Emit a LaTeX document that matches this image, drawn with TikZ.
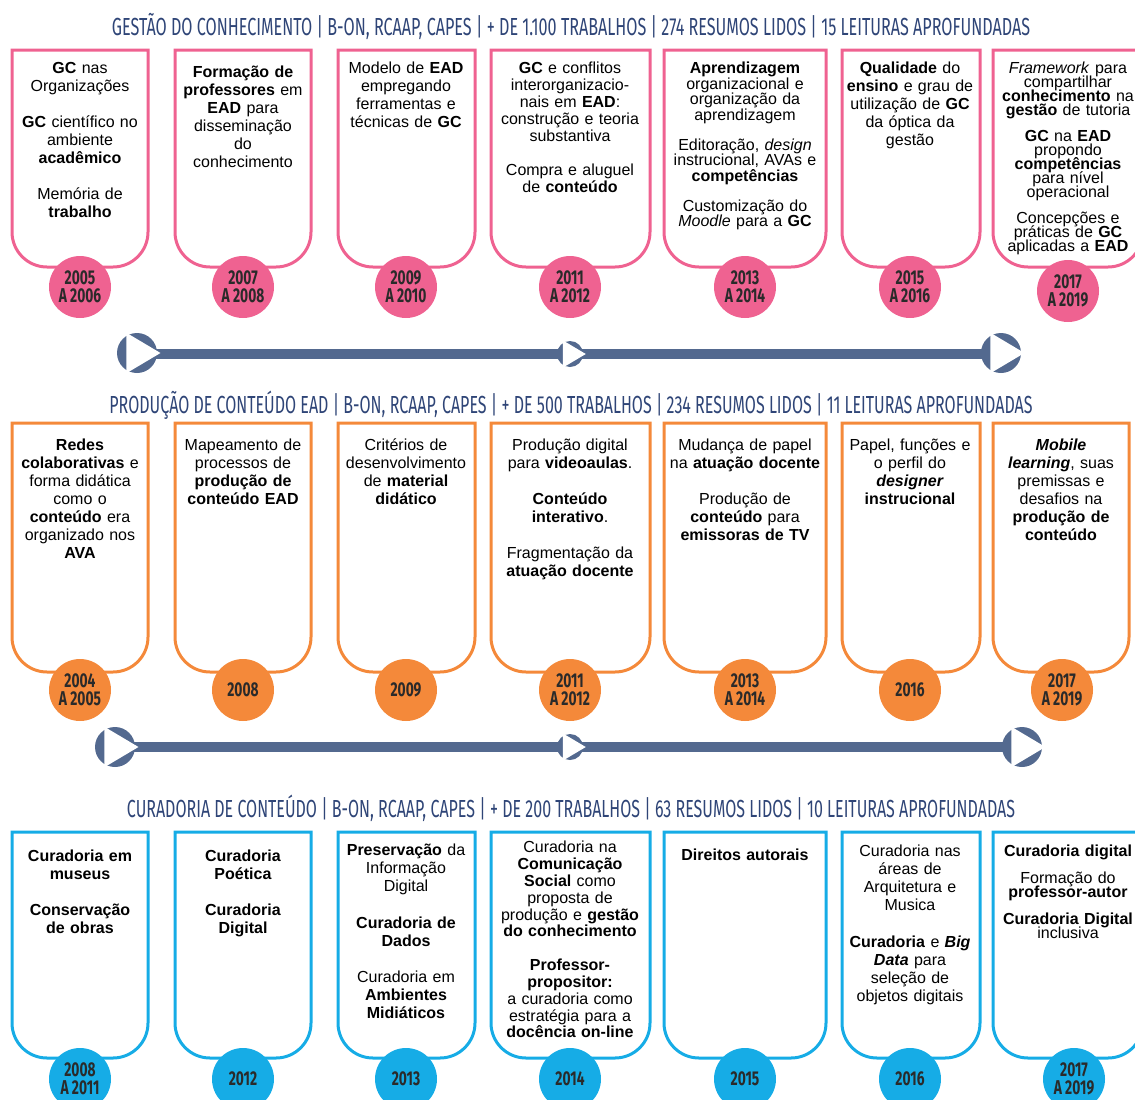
\documentclass[tikz,border=0pt]{standalone}
\usepackage{graphicx}
\usepackage{fontspec}
\setmainfont{Liberation Sans}
\newfontfamily\headfont[FakeStretch=0.6]{Fira Sans}
\newfontfamily\yearfont[FakeStretch=0.69]{Fira Sans}
\usetikzlibrary{calc}

\definecolor{gcpink}{HTML}{EF6291}
\definecolor{eadorange}{HTML}{F4893A}
\definecolor{curblue}{HTML}{16ACE6}
\definecolor{headnavy}{HTML}{2F4577}
\definecolor{lineslate}{HTML}{53698F}
\definecolor{yeardark}{HTML}{2A2A2A}

% card font: size and line distance, no extra line skip
\def\cardfont#1#2{\fontsize{#1}{#2}\selectfont\lineskiplimit=-20pt\lineskip=0pt}

\tikzset{
	cardline/.style={line width=3pt},
	cardtext/.style={anchor=north, inner sep=0pt, align=center, text width=170pt, font=\cardfont{16}{18}},
	yearball/.style={circle, minimum size=62pt, inner sep=0pt, align=center, text=yeardark, font=\yearfont\bfseries\fontsize{20}{18}\selectfont},
	headline/.style={anchor=base, inner sep=0pt, text=headnavy},
	timeline/.style={line width=10pt, color=lineslate},
}

% card with square top and round bottom corners
\def\cardframe[#1](#2:#3:#4:#5){\draw[cardline,#1] (#2,#4) -- (#2,#5-35) arc[start angle=180,end angle=90,radius=35] -- (#3-35,#5) arc[start angle=90,end angle=0,radius=35] -- (#3,#4) -- cycle;}
% play marker on the time line
\def\playmark(#1,#2,#3){\fill[lineslate] (#1,#2) circle (#3); \filldraw[white, line width=1.5pt] (#1-0.5*#3,#2-0.95*#3) -- (#1-0.5*#3,#2+0.95*#3) -- (#1+1.1*#3,#2) -- cycle;}

\begin{document}
\begin{tikzpicture}[x=1pt,y=-1pt]
	\useasboundingbox (0,0) rectangle (1135,1100);
	\clip (0,0) rectangle (1135,1100);
	
	%%%%% GESTAO DO CONHECIMENTO %%%%%
	
	\node[headline] (gchead) at (571,35) {\resizebox{918pt}{17pt}{\headfont\vphantom{X}\smash{GESTÃO DO CONHECIMENTO | B-ON, RCAAP, CAPES | + DE 1.100 TRABALHOS | 274 RESUMOS LIDOS | 15 LEITURAS APROFUNDADAS}}};
	
	\cardframe[gcpink](12:148:50:267)
	\cardframe[gcpink](175:311:50:267)
	\cardframe[gcpink](338:475:50:267)
	\cardframe[gcpink](491:650:50:267)
	\cardframe[gcpink](664:826:50:267)
	\cardframe[gcpink](842:980:50:267)
	\cardframe[gcpink](993:1143:50:267)
	
	\node[cardtext] (gc1txt) at (80,62) {\textbf{GC} nas\\Organizações\\[18pt]\textbf{GC} científico no\\ambiente\\\textbf{acadêmico}\\[18pt]Memória de\\\textbf{trabalho}};
	\node[cardtext] (gc2txt) at (243,66) {\textbf{Formação de}\\\textbf{professores} em\\\textbf{EAD} para\\disseminação\\do\\conhecimento};
	\node[cardtext] (gc3txt) at (406,62) {Modelo de \textbf{EAD}\\empregando\\ferramentas e\\técnicas de \textbf{GC}};
	\node[cardtext, font=\cardfont{16}{17}] (gc4txt) at (570,62) {\textbf{GC} e conflitos\\interorganizacio-\\nais em \textbf{EAD}:\\construção e teoria\\substantiva\\[17pt]Compra e aluguel\\de \textbf{conteúdo}};
	\node[cardtext, font=\cardfont{16}{15.5}] (gc5txt) at (745,62) {\textbf{Aprendizagem}\\organizacional e\\organização da\\aprendizagem\\[14.5pt]Editoração, \textit{design}\\instrucional, AVAs e\\\textbf{competências}\\[14.5pt]Customização do\\\textit{Moodle} para a \textbf{GC}};
	\node[cardtext] (gc6txt) at (910,62) {\textbf{Qualidade} do\\\textbf{ensino} e grau de\\utilização de \textbf{GC}\\da óptica da\\gestão};
	\node[cardtext, font=\cardfont{16}{14}] (gc7txt) at (1068,62) {\textit{Framework} para\\compartilhar\\\textbf{conhecimento} na\\\textbf{gestão} de tutoria\\[12pt]\textbf{GC} na \textbf{EAD}\\propondo\\\textbf{competências}\\para nível\\operacional\\[12pt]Concepções e\\práticas de \textbf{GC}\\aplicadas a \textbf{EAD}};
	
	\node[yearball, fill=gcpink] (gc1yr) at (80,287) {2005\\A 2006};
	\node[yearball, fill=gcpink] (gc2yr) at (243,287) {2007\\A 2008};
	\node[yearball, fill=gcpink] (gc3yr) at (406,287) {2009\\A 2010};
	\node[yearball, fill=gcpink] (gc4yr) at (570,287) {2011\\A 2012};
	\node[yearball, fill=gcpink] (gc5yr) at (745,287) {2013\\A 2014};
	\node[yearball, fill=gcpink] (gc6yr) at (910,287) {2015\\A 2016};
	\node[yearball, fill=gcpink] (gc7yr) at (1068,291) {2017\\A 2019};
	
	\coordinate (gcFirst) at (137,354);
	\coordinate (gcLast) at (1001,354);
	\draw[timeline] (gcFirst) -- (gcLast);
	\playmark(137,353,20)
	\playmark(570,354,13)
	\playmark(1001,353,20)
	
	%%%%% PRODUCAO DE CONTEUDO EAD %%%%%
	
	\node[headline] (eadhead) at (571,413) {\resizebox{923pt}{17pt}{\headfont\vphantom{X}\smash{PRODUÇÃO DE CONTEÚDO EAD | B-ON, RCAAP, CAPES | + DE 500 TRABALHOS | 234 RESUMOS LIDOS | 11 LEITURAS APROFUNDADAS}}};
	
	\cardframe[eadorange](12:148:423:672)
	\cardframe[eadorange](175:311:423:672)
	\cardframe[eadorange](338:475:423:672)
	\cardframe[eadorange](491:650:423:672)
	\cardframe[eadorange](664:826:423:672)
	\cardframe[eadorange](842:980:423:672)
	\cardframe[eadorange](993:1129:423:672)
	
	\node[cardtext] (ead1txt) at (80,439) {\textbf{Redes}\\\textbf{colaborativas} e\\forma didática\\como o\\\textbf{conteúdo} era\\organizado nos\\\textbf{AVA}};
	\node[cardtext] (ead2txt) at (243,439) {Mapeamento de\\processos de\\\textbf{produção de}\\\textbf{conteúdo EAD}};
	\node[cardtext] (ead3txt) at (406,439) {Critérios de\\desenvolvimento\\de \textbf{material}\\\textbf{didático}};
	\node[cardtext] (ead4txt) at (570,439) {Produção digital\\para \textbf{videoaulas}.\\[18pt]\textbf{Conteúdo}\\\textbf{interativo}.\\[18pt]Fragmentação da\\\textbf{atuação docente}};
	\node[cardtext] (ead5txt) at (745,439) {Mudança de papel\\na \textbf{atuação docente}\\[18pt]Produção de\\\textbf{conteúdo} para\\\textbf{emissoras de TV}};
	\node[cardtext] (ead6txt) at (910,439) {Papel, funções e\\o perfil do\\\textbf{\textit{designer}}\\\textbf{instrucional}};
	\node[cardtext] (ead7txt) at (1061,439) {\textbf{\textit{Mobile}}\\\textbf{\textit{learning}}, suas\\premissas e\\desafios na\\\textbf{produção de}\\\textbf{conteúdo}};
	
	\node[yearball, fill=eadorange] (ead1yr) at (80,690) {2004\\A 2005};
	\node[yearball, fill=eadorange] (ead2yr) at (243,690) {2008};
	\node[yearball, fill=eadorange] (ead3yr) at (406,690) {2009};
	\node[yearball, fill=eadorange] (ead4yr) at (570,690) {2011\\A 2012};
	\node[yearball, fill=eadorange] (ead5yr) at (745,690) {2013\\A 2014};
	\node[yearball, fill=eadorange] (ead6yr) at (910,690) {2016};
	\node[yearball, fill=eadorange] (ead7yr) at (1062,690) {2017\\A 2019};
	
	\coordinate (eadFirst) at (115,747);
	\coordinate (eadLast) at (1022,747);
	\draw[timeline] (eadFirst) -- (eadLast);
	\playmark(115,747,20)
	\playmark(570,747,13)
	\playmark(1022,747,20)
	
	%%%%% CURADORIA DE CONTEUDO %%%%%
	
	\node[headline] (curhead) at (571,817) {\resizebox{888pt}{17pt}{\headfont\vphantom{X}\smash{CURADORIA DE CONTEÚDO | B-ON, RCAAP, CAPES | + DE 200 TRABALHOS | 63 RESUMOS LIDOS | 10 LEITURAS APROFUNDADAS}}};
	
	\cardframe[curblue](12:148:832:1058)
	\cardframe[curblue](175:311:832:1058)
	\cardframe[curblue](338:475:832:1058)
	\cardframe[curblue](491:650:832:1058)
	\cardframe[curblue](664:826:832:1058)
	\cardframe[curblue](842:980:832:1058)
	\cardframe[curblue](993:1143:832:1058)
	
	\node[cardtext] (cur1txt) at (80,850) {\textbf{Curadoria em}\\\textbf{museus}\\[18pt]\textbf{Conservação}\\\textbf{de obras}};
	\node[cardtext] (cur2txt) at (243,850) {\textbf{Curadoria}\\\textbf{Poética}\\[18pt]\textbf{Curadoria}\\\textbf{Digital}};
	\node[cardtext] (cur3txt) at (406,844) {\textbf{Preservação} da\\Informação\\Digital\\[19pt]\textbf{Curadoria de}\\\textbf{Dados}\\[18pt]Curadoria em\\\textbf{Ambientes}\\\textbf{Midiáticos}};
	\node[cardtext, font=\cardfont{16}{16.8}] (cur4txt) at (570,841) {Curadoria na\\\textbf{Comunicação}\\\textbf{Social} como\\proposta de\\produção e \textbf{gestão}\\\textbf{do conhecimento}\\[17pt]\textbf{Professor-}\\\textbf{propositor:}\\a curadoria como\\estratégia para a\\\textbf{docência on-line}};
	\node[cardtext] (cur5txt) at (745,849) {\textbf{Direitos autorais}};
	\node[cardtext] (cur6txt) at (910,845) {Curadoria nas\\áreas de\\Arquitetura e\\Musica\\[19pt]\textbf{Curadoria} e \textbf{\textit{Big}}\\\textbf{\textit{Data}} para\\seleção de\\objetos digitais};
	\node[cardtext, font=\cardfont{16}{14}] (cur7txt) at (1068,845) {\textbf{Curadoria digital}\\[13pt]Formação do\\\textbf{professor-autor}\\[13pt]\textbf{Curadoria Digital}\\inclusiva};
	
	\node[yearball, fill=curblue] (cur1yr) at (80,1079) {2008\\A 2011};
	\node[yearball, fill=curblue] (cur2yr) at (243,1079) {2012};
	\node[yearball, fill=curblue] (cur3yr) at (406,1079) {2013};
	\node[yearball, fill=curblue] (cur4yr) at (570,1079) {2014};
	\node[yearball, fill=curblue] (cur5yr) at (745,1079) {2015};
	\node[yearball, fill=curblue] (cur6yr) at (910,1079) {2016};
	\node[yearball, fill=curblue] (cur7yr) at (1074,1079) {2017\\A 2019};
	
\end{tikzpicture}
\end{document}
